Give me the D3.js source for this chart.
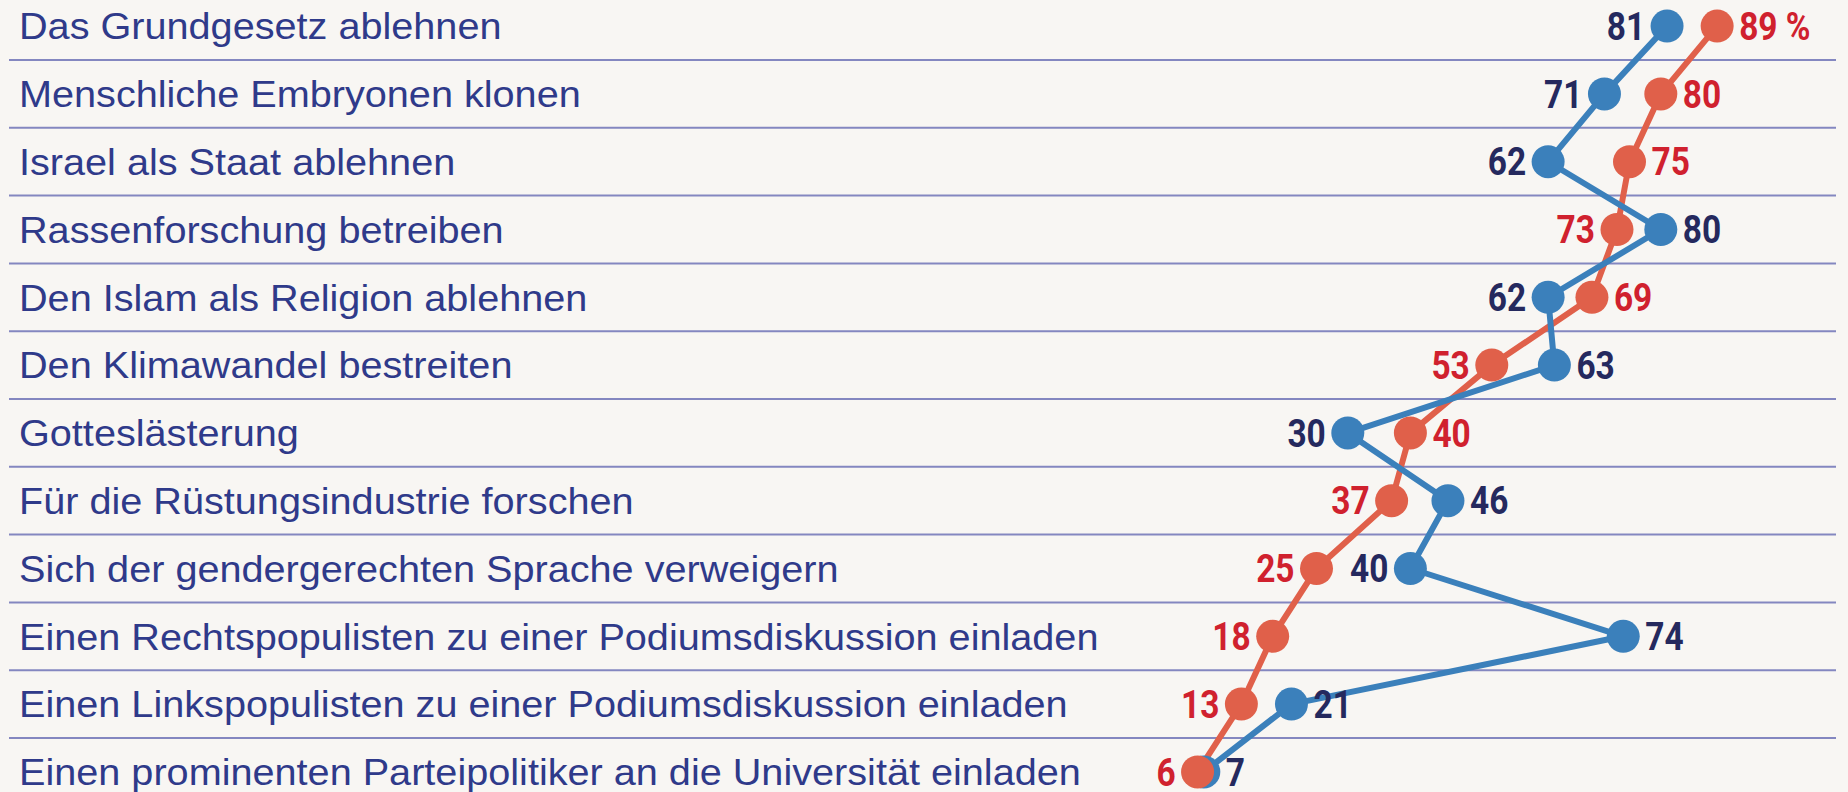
<!DOCTYPE html>
<html>
<head>
<meta charset="utf-8">
<script src="https://cdn.jsdelivr.net/npm/d3@7"></script>
<style>
  html, body { margin: 0; padding: 0; background: #f8f6f3; }
  svg { display: block; }
</style>
</head>
<body>
<div id="chart"></div>
<script>
const categories = [
  "Das Grundgesetz ablehnen",
  "Menschliche Embryonen klonen",
  "Israel als Staat ablehnen",
  "Rassenforschung betreiben",
  "Den Islam als Religion ablehnen",
  "Den Klimawandel bestreiten",
  "Gotteslästerung",
  "Für die Rüstungsindustrie forschen",
  "Sich der gendergerechten Sprache verweigern",
  "Einen Rechtspopulisten zu einer Podiumsdiskussion einladen",
  "Einen Linkspopulisten zu einer Podiumsdiskussion einladen",
  "Einen prominenten Parteipolitiker an die Universität einladen"
];
const blueValues = [81, 71, 62, 80, 62, 63, 30, 46, 40, 74, 21, 7];
const redValues  = [89, 80, 75, 73, 69, 53, 40, 37, 25, 18, 13, 6];
// rows where the blue value label sits left of its dot even though blue is larger
const blueLabelLeftRows = [8];

const W = 1848, H = 792;
const colors = {
  blueDot: "#3b80bb", redDot: "#e0604a",
  blueText: "#25295e", redText: "#d0212e",
  label: "#2f3a8a", grid: "#8487c0"
};

const svg = d3.select("#chart").append("svg")
  .attr("width", W).attr("height", H)
  .style("background", "#f8f6f3");

const x = d3.scaleLinear().domain([0, 100]).range([1160, 1786]);
const y = d3.scaleBand().domain(categories).range([-7.8, 805.8]);
const cy = c => y(c) + y.bandwidth() / 2;

// row separators
svg.append("g").selectAll("line")
  .data(categories.slice(0, -1))
  .join("line")
  .attr("x1", 9).attr("x2", 1836)
  .attr("y1", d => y(d) + y.bandwidth())
  .attr("y2", d => y(d) + y.bandwidth())
  .attr("stroke", colors.grid)
  .attr("stroke-width", 2);

// category labels
const labelSize = 37;
const labels = svg.append("g").selectAll("text")
  .data(categories)
  .join("text")
  .attr("x", 0).attr("y", 0)
  .attr("font-family", "'Liberation Sans', Arial, sans-serif")
  .attr("font-size", labelSize)
  .attr("fill", colors.label)
  .text(d => d);
// squeeze horizontally so the longest label fits like the original
const longest = d3.max(labels.nodes(), n => n.getComputedTextLength());
const k = 1080 / longest;
labels.attr("transform", d => `translate(19,${cy(d) + labelSize * 0.36}) scale(${k},1)`);

const blue = categories.map((c, i) => ({ c, i, v: blueValues[i], o: redValues[i] }));
const red = categories.map((c, i) => ({ c, i, v: redValues[i], o: blueValues[i] }));

const line = d3.line().x(d => x(d.v)).y(d => cy(d.c));

svg.append("path").datum(red)
  .attr("d", line).attr("fill", "none")
  .attr("stroke", colors.redDot).attr("stroke-width", 6).attr("stroke-linejoin", "round");
svg.append("path").datum(blue)
  .attr("d", line).attr("fill", "none")
  .attr("stroke", colors.blueDot).attr("stroke-width", 6).attr("stroke-linejoin", "round");

const r = 16.5;
svg.append("g").selectAll("circle").data(blue).join("circle")
  .attr("cx", d => x(d.v)).attr("cy", d => cy(d.c)).attr("r", r)
  .attr("fill", colors.blueDot);
svg.append("g").selectAll("circle").data(red).join("circle")
  .attr("cx", d => x(d.v)).attr("cy", d => cy(d.c)).attr("r", r)
  .attr("fill", colors.redDot);

// value labels, slightly condensed bold digits
const numSize = 38, numK = 0.88, off = 22;
function valueLabels(data, color, isBlue) {
  svg.append("g").selectAll("text").data(data).join("text")
    .each(function (d) {
      let left = d.v < d.o;
      if (isBlue && blueLabelLeftRows.includes(d.i)) left = true;
      const tx = left ? x(d.v) - off : x(d.v) + off;
      d3.select(this)
        .attr("transform", `translate(${tx},${cy(d.c) + numSize * 0.36}) scale(${numK},1)`)
        .attr("text-anchor", left ? "end" : "start");
    })
    .attr("font-family", "Roboto, sans-serif")
    .attr("font-weight", 700)
    .attr("font-size", numSize)
    .attr("fill", color)
    .text(d => (!isBlue && d.i === 0) ? d.v + " %" : d.v);
}
valueLabels(blue, colors.blueText, true);
valueLabels(red, colors.redText, false);
</script>
</body>
</html>
